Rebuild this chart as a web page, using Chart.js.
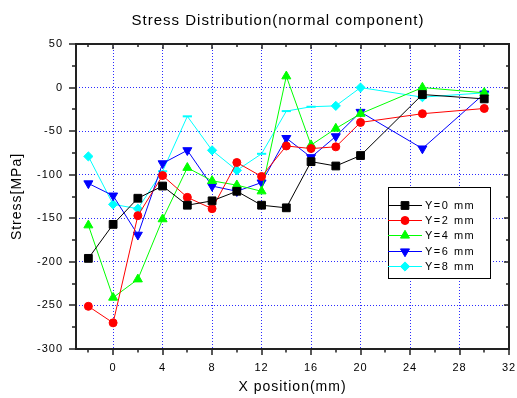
<!DOCTYPE html>
<html><head><meta charset="utf-8">
<script src="https://cdn.jsdelivr.net/npm/chart.js@4/dist/chart.umd.min.js"></script>
<style>html,body{margin:0;padding:0;background:#fff}#wrap{width:517px;height:398px}canvas{display:block}</style>
</head><body><div id="wrap"><canvas id="c" width="517" height="398"></canvas></div>
<script>
const CHART_TITLE = 'Stress Distribution(normal component)';
const X_TITLE = 'X position(mm)';
const Y_TITLE = 'Stress[MPa]';
const X_POS = [-2, 0, 2, 4, 6, 8, 10, 12, 14, 16, 18, 20, 25, 30];
const SERIES_LABELS = ['Y=0 mm', 'Y=2 mm', 'Y=4 mm', 'Y=6 mm', 'Y=8 mm'];
const Y0_VALUES = [-196, -157, -127, -113, -135, -130, -119, -135, -138, -85, -90, -78, -8, -13];
const Y2_VALUES = [-251, -270, -147, -101, -126, -139, -86, -102, -67, -70, -68, -40, -30, -24];
const Y4_VALUES = [-158, -241, -220, -151, -92, -107, -112, -119, 13, -66, -47, -30, 0, -6];
const Y6_VALUES = [-110, -124, -169, -87, -72, -113, -119, -109, -58, -80, -56, -28, -70, -7];
const Y8_VALUES = [-79, -134, -139, -96, -33, -72, -95, -76, -27, -22, -21, 0, -11, -6];
const X_TICKS = [0, 4, 8, 12, 16, 20, 24, 28, 32];
const X_MINOR_TICKS = [-2, 2, 6, 10, 14, 18, 22, 26, 30];
const Y_TICKS = [50, 0, -50, -100, -150, -200, -250, -300];
const Y_MINOR_TICKS = [25, -25, -75, -125, -175, -225, -275];

// marker style for the Y=8 series (some points drawn as dashes in the original)
const Y8_MARKERS = ['rectRot','rectRot','rectRot','line','line','rectRot','rectRot','line','line','line','rectRot','rectRot','rectRot','rectRot'];

const FONT = "'Liberation Sans', Arial, sans-serif";
const pts = vals => vals.map((v, i) => ({x: X_POS[i], y: v}));

const STYLES = [
  {color: '#000000', pointStyle: 'rect', radius: 5.5, rotation: 0},
  {color: '#ff0000', pointStyle: 'circle', radius: 4, rotation: 0},
  {color: '#00ff00', pointStyle: 'triangle', radius: 5.2, rotation: 0},
  {color: '#0000ff', pointStyle: 'triangle', radius: 5.2, rotation: 180},
  {color: '#00ffff', pointStyle: Y8_MARKERS, radius: 4.6, rotation: 0}
];
const SERIES = [Y0_VALUES, Y2_VALUES, Y4_VALUES, Y6_VALUES, Y8_VALUES];

const datasets = SERIES.map((vals, i) => {
  const s = STYLES[i];
  return {
    label: SERIES_LABELS[i],
    data: pts(vals),
    borderColor: s.color,
    backgroundColor: s.color,
    borderWidth: 1,
    pointStyle: s.pointStyle,
    pointRadius: s.radius,
    pointRotation: s.rotation,
    pointBackgroundColor: s.color,
    pointBorderColor: s.color,
    pointBorderWidth: ctx => (Array.isArray(s.pointStyle) && s.pointStyle[ctx.dataIndex] === 'line') ? 2 : 1,
    tension: 0,
    fill: false
  };
});

const decorPlugin = {
  id: 'decor',
  beforeDraw(chart) {
    chart.ctx.letterSpacing = '1px';
  },
  afterDraw(chart) {
    const ctx = chart.ctx;
    const ca = chart.chartArea;
    const xs = chart.scales.x, ys = chart.scales.y;
    ctx.save();
    ctx.letterSpacing = '1px';
    // title
    ctx.fillStyle = '#000';
    ctx.font = '15px ' + FONT;
    ctx.textAlign = 'center';
    ctx.textBaseline = 'alphabetic';
    ctx.fillText(CHART_TITLE, 278, 25);

    // frame
    ctx.strokeStyle = '#222';
    ctx.lineWidth = 2;
    ctx.strokeRect(ca.left, ca.top, ca.right - ca.left, ca.bottom - ca.top);
    // ticks
    ctx.lineWidth = 1.5;
    ctx.beginPath();
    const vline = (x, y1, y2) => { const px = Math.round(x); ctx.moveTo(px, y1); ctx.lineTo(px, y2); };
    const hline = (y, x1, x2) => { const py = Math.round(y); ctx.moveTo(x1, py); ctx.lineTo(x2, py); };
    X_TICKS.forEach(v => { const p = xs.getPixelForValue(v); vline(p, ca.bottom, ca.bottom + 6); vline(p, ca.top, ca.top + 5); });
    X_MINOR_TICKS.forEach(v => { const p = xs.getPixelForValue(v); vline(p, ca.bottom, ca.bottom + 3.5); vline(p, ca.top, ca.top + 3); });
    Y_TICKS.forEach(v => { const p = ys.getPixelForValue(v); hline(p, ca.left - 7, ca.left); hline(p, ca.right, ca.right - 5); });
    Y_MINOR_TICKS.forEach(v => { const p = ys.getPixelForValue(v); hline(p, ca.left - 4, ca.left); hline(p, ca.right, ca.right - 3); });
    ctx.stroke();

    // legend
    const lx = 388, ly = 187, lw = 102, lh = 91;
    ctx.fillStyle = '#fff';
    ctx.fillRect(lx, ly, lw, lh);
    ctx.strokeStyle = '#000';
    ctx.lineWidth = 1;
    ctx.strokeRect(lx + 0.5, ly + 0.5, lw, lh);
    ctx.font = '11px ' + FONT;
    ctx.letterSpacing = '1.5px';
    ctx.textAlign = 'left';
    ctx.textBaseline = 'middle';
    chart.data.datasets.forEach((ds, i) => {
      const y = Math.round(ly + 17.5 + i * 15.4) + 0.5;
      ctx.strokeStyle = ds.borderColor;
      ctx.lineWidth = 1;
      ctx.beginPath(); ctx.moveTo(lx, y); ctx.lineTo(lx + 34, y); ctx.stroke();
      const st = STYLES[i];
      const ps = Array.isArray(st.pointStyle) ? st.pointStyle[0] : st.pointStyle;
      ctx.fillStyle = ds.borderColor;
      Chart.helpers.drawPoint(ctx, {pointStyle: ps, radius: st.radius, rotation: st.rotation, borderWidth: 1}, lx + 17, y);
      ctx.fillStyle = '#000';
      ctx.fillText(ds.label, lx + 37, y);
    });
    ctx.restore();
  }
};

const gridColor = (lo, hi) => ctx => (ctx.tick && ctx.tick.value >= lo && ctx.tick.value <= hi) ? 'rgba(20,20,255,0.9)' : 'rgba(0,0,0,0)';

new Chart(document.getElementById('c'), {
  type: 'line',
  data: {datasets},
  plugins: [decorPlugin],
  options: {
    responsive: false,
    animation: false,
    devicePixelRatio: 1,
    layout: {padding: {top: 44, right: 8, left: 0, bottom: 0}},
    plugins: {legend: {display: false}, tooltip: {enabled: false}, title: {display: false}},
    scales: {
      x: {
        type: 'linear', min: -3, max: 32,
        afterBuildTicks: s => { s.ticks = X_TICKS.map(v => ({value: v})); },
        afterFit: s => { s.height = 49; s.paddingLeft = 0; s.paddingRight = 0; },
        grid: {color: gridColor(0, 28), lineWidth: 1, drawTicks: false},
        border: {display: false, dash: [1, 2]},
        ticks: {padding: 12, color: '#000', font: {size: 11, family: FONT}, maxRotation: 0, autoSkip: false},
        title: {display: true, text: X_TITLE, color: '#000', font: {size: 14, family: FONT}, padding: {top: 0, bottom: 2}}
      },
      y: {
        type: 'linear', min: -300, max: 50,
        afterBuildTicks: s => { s.ticks = Y_TICKS.map(v => ({value: v})); },
        afterFit: s => { s.width = 76; s.paddingTop = 0; s.paddingBottom = 0; },
        grid: {color: gridColor(-250, 0), lineWidth: 1, drawTicks: false},
        border: {display: false, dash: [1, 2]},
        ticks: {padding: 13, color: '#000', font: {size: 11, family: FONT}},
        title: {display: true, text: Y_TITLE, color: '#000', font: {size: 14, family: FONT}, padding: {top: 9, bottom: 0}}
      }
    }
  }
});
</script>
</body></html>
